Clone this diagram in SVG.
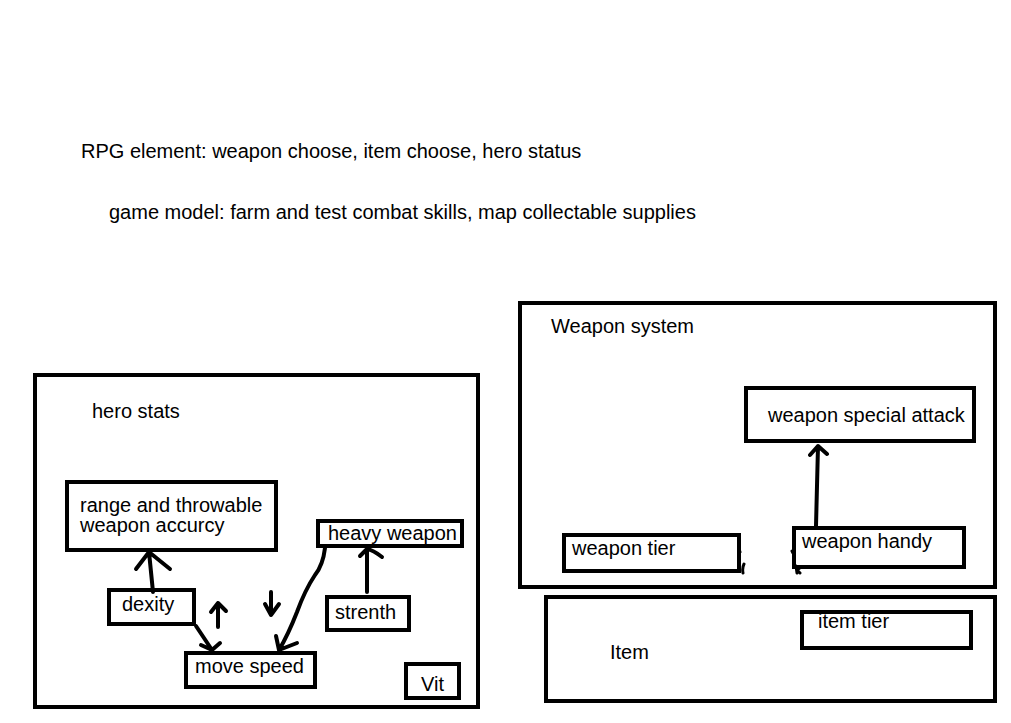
<svg xmlns="http://www.w3.org/2000/svg" width="1011" height="723" viewBox="0 0 1011 723">
<style>
text{font-family:"Liberation Sans",Arial,Helvetica,sans-serif;font-size:20px;fill:#000}
.box{fill:none;stroke:#000;stroke-width:4}
.ln{fill:none;stroke:#000;stroke-width:4;stroke-linecap:round;stroke-linejoin:round}
.thin{fill:none;stroke:#000;stroke-width:3;stroke-linecap:round}
</style>
<rect width="1011" height="723" fill="#fff"/>
<text x="81" y="158">RPG element: weapon choose, item choose, hero status</text>
<text x="109" y="219">game model: farm and test combat skills, map collectable supplies</text>

<g id="hero-stats">
<rect class="box" x="35" y="375" width="443" height="332"/>
<text x="92" y="418">hero stats</text>
</g>
<g id="range">
<rect class="box" x="67" y="482" width="209" height="68"/>
<text x="80" y="512">range and throwable</text>
<text x="80" y="532">weapon accurcy</text>
</g>
<g id="heavy-weapon">
<rect class="box" x="318" y="521" width="144" height="25"/>
<text x="328" y="540">heavy weapon</text>
</g>
<g id="dexity">
<rect class="box" x="109" y="590" width="85" height="34"/>
<text x="122" y="611">dexity</text>
</g>
<g id="strenth">
<rect class="box" x="327" y="597" width="82" height="33"/>
<text x="335" y="619">strenth</text>
</g>
<g id="move-speed">
<rect class="box" x="186" y="653" width="129" height="34"/>
<text x="195" y="673">move speed</text>
</g>
<g id="vit">
<rect class="box" x="406" y="664" width="53" height="34"/>
<text x="421" y="691">Vit</text>
</g>

<g id="weapon-system">
<rect class="box" x="520" y="303" width="475" height="284"/>
<text x="551" y="333">Weapon system</text>
</g>
<g id="weapon-special-attack">
<rect class="box" x="746" y="388" width="228" height="53"/>
<text x="768" y="422">weapon special attack</text>
</g>
<g id="weapon-tier">
<rect class="box" x="564" y="535" width="175" height="36"/>
<text x="572" y="555">weapon tier</text>
</g>
<g id="weapon-handy">
<rect class="box" x="794" y="528" width="170" height="39"/>
<text x="802" y="548">weapon handy</text>
</g>
<g id="item">
<rect class="box" x="546" y="597" width="449" height="104"/>
<text x="610" y="659">Item</text>
</g>
<g id="item-tier">
<rect class="box" x="802" y="612" width="169" height="36"/>
<text x="818" y="628">item tier</text>
</g>

<g id="connectors">
<path class="ln" d="M153 592 L149 552 M136 569 L149 552 L170 569"/>
<path class="ln" d="M367 592 L367 549 M360 556 L367 549 Q373 550 382 557"/>
<path class="ln" d="M196 626 L212 650 M201 645 L212 650 L220 643"/>
<path class="ln" d="M218 627 L218 603 M211 612 L218 603 L226 611"/>
<path class="ln" d="M271 592 L271 615 M265 604 L271 615 L279 604"/>
<path class="ln" d="M325 548 Q323 565 315 575 Q305 590 297 612 Q288 635 279 650 M276 636 L279 650 L297 643"/>
<path class="ln" d="M816 526 L818 446 M810 455 L818 446 L827 454"/>
<path class="thin" d="M739 549 L740 552 M744 564 Q742 568 743 573 M792 551 L793 553 M796 566 L797 573 M797 570 L801 567 M797 570 L800 573"/>
</g>
</svg>
